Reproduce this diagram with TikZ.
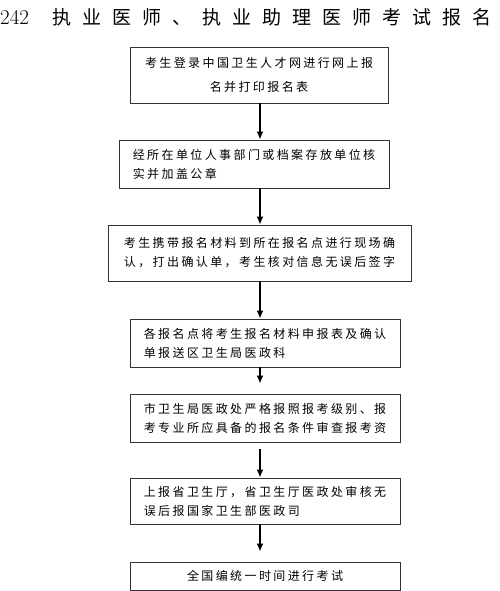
\documentclass[tikz,border=0pt]{standalone}
\usepackage{fontspec}
\newfontfamily\cjk[LetterSpace=20]{Noto Sans CJK SC}
\newfontfamily\cjkhead[LetterSpace=58]{Noto Sans CJK SC}
\usetikzlibrary{arrows.meta}

\begin{document}
\begin{tikzpicture}[x=1pt, y=-1pt, >={Latex[length=8pt,width=7pt]},
  box/.style={draw=black!80, line width=0.8pt, inner sep=0pt, align=left,
    font=\cjk\fontsize{12}{19}\selectfont, minimum width=270pt, minimum height=48pt},
  flow/.style={->, line width=1.6pt}]
\useasboundingbox (0,0) rectangle (500,591);
\node[anchor=west, inner sep=0pt, font=\fontsize{21}{21}\selectfont] (num) at (0,17) {242};
\node[anchor=west, inner sep=0pt, font=\cjkhead\fontsize{19}{19}\selectfont] (head) at (52,17) {执业医师、执业助理医师考试报名};
\node[box, align=center, font=\cjk\fontsize{12}{24}\selectfont, minimum width=258pt, minimum height=56pt] (s1) at (259,75) {考生登录中国卫生人才网进行网上报\\名并打印报名表};
\node[box] (s2) at (254,164) {经所在单位人事部门或档案存放单位核\\实并加盖公章};
\node[box, minimum width=303pt, minimum height=56pt] (s3) at (259.5,253) {考生携带报名材料到所在报名点进行现场确\\认，打出确认单，考生核对信息无误后签字};
\node[box] (s4) at (265,343) {各报名点将考生报名材料申报表及确认\\单报送区卫生局医政科};
\node[box] (s5) at (265,418) {市卫生局医政处严格报照报考级别、报\\考专业所应具备的报名条件审查报考资};
\node[box, minimum height=46pt] (s6) at (265,501) {上报省卫生厅，省卫生厅医政处审核无\\误后报国家卫生部医政司};
\node[box, align=center, minimum height=28pt] (s7) at (265,576) {全国编统一时间进行考试};
\coordinate (ax) at (260,0);
\draw[flow] (s1.south -| ax) -- (s2.north -| ax);
\draw[flow] (s2.south -| ax) -- (s3.north -| ax);
\draw[flow] (s3.south -| ax) -- (s4.north -| ax);
\draw[flow, shorten >=10pt] (s4.south -| ax) -- (s5.north -| ax);
\draw[flow, shorten <=7pt] (s5.south -| ax) -- (s6.north -| ax);
\draw[flow, shorten >=10pt] (s6.south -| ax) -- (s7.north -| ax);
\end{tikzpicture}
\end{document}
